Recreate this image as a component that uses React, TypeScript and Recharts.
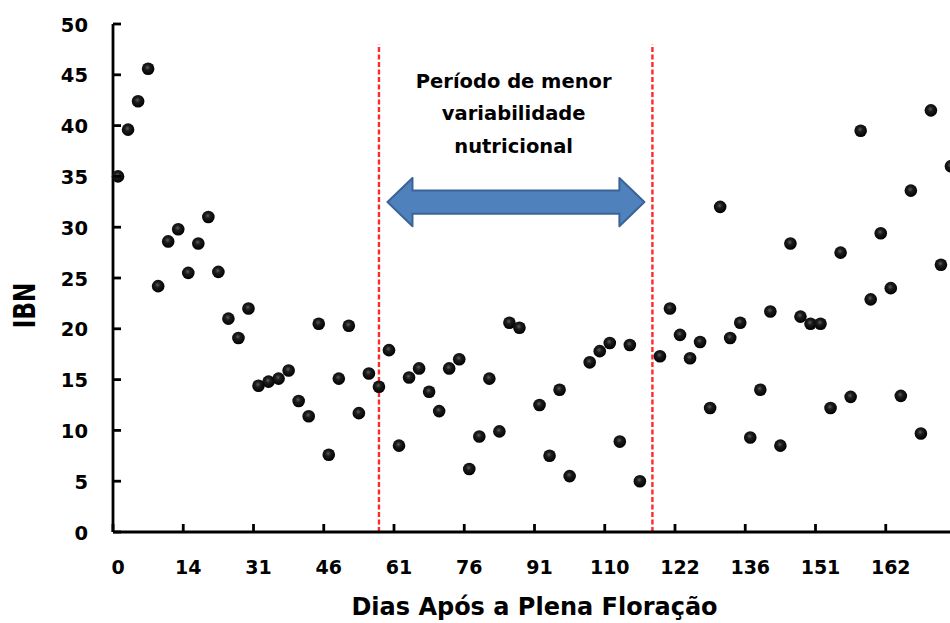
import React from 'react';
import { ScatterChart, Scatter, XAxis, YAxis, ReferenceLine, ReferenceArea } from 'recharts';

// IBN per sample, in sampling order (null = no sample at that position)
const IBN: (number | null)[] = [
  35.0, 39.6, 42.4, 45.6, 24.2, 28.6, 29.8, 25.5, 28.4, 31.0,
  25.6, 21.0, 19.1, 22.0, 14.4, 14.8, 15.1, 15.9, 12.9, 11.4,
  20.5, 7.6, 15.1, 20.3, 11.7, 15.6, 14.3, 17.9, 8.5, 15.2,
  16.1, 13.8, 11.9, 16.1, 17.0, 6.2, 9.4, 15.1, 9.9, 20.6,
  20.1, null, 12.5, 7.5, 14.0, 5.5, null, 16.7, 17.8, 18.6,
  8.9, 18.4, 5.0, null, 17.3, 22.0, 19.4, 17.1, 18.7, 12.2,
  32.0, 19.1, 20.6, 9.3, 14.0, 21.7, 8.5, 28.4, 21.2, 20.5,
  20.5, 12.2, 27.5, 13.3, 39.5, 22.9, 29.4, 24.0, 13.4, 33.6,
  9.7, 41.5, 26.3, 36.0,
];

// day labels shown on every 7th sample
const DAY_TICKS = ['0', '14', '31', '46', '61', '76', '91', '110', '122', '136', '151', '162'];
const TICK_STEP = 7;
const Y_TICKS = [0, 5, 10, 15, 20, 25, 30, 35, 40, 45, 50];

// period of lower nutritional variability (sample positions)
const PERIOD_START = 26;
const PERIOD_END = 53.25;
const NOTE_LINES = ['Período de menor', 'variabilidade', 'nutricional'];

const CHART_W = 970;
const CHART_H = 623;
const MARGIN = { top: 24, right: 14, bottom: 0, left: 0 };
const Y_AXIS_W = 113;
const X_AXIS_H = 91;
const N = IBN.length;
const BAND = (CHART_W - MARGIN.right - Y_AXIS_W) / N;
const FONT = '"DejaVu Sans", Verdana, sans-serif';
const AXIS_W = 2.8;

const data = IBN.map((v, i) => ({ i, ibn: v })).filter(d => d.ibn !== null);

const YTick = ({ x, y, payload }: any) => (
  <g>
    <line x1={x} x2={x + 8} y1={y} y2={y} stroke="#000" strokeWidth={AXIS_W} />
    <text x={x - 25} y={y + 1} textAnchor="end" dominantBaseline="central"
      fontFamily={FONT} fontWeight="bold" fontSize={19.5} fill="#000">
      {payload.value}
    </text>
  </g>
);

const XTick = ({ x, y, payload }: any) => (
  <g>
    <line x1={x - BAND / 2} x2={x - BAND / 2} y1={y} y2={y - 8} stroke="#000" strokeWidth={AXIS_W} />
    <text x={x} y={y + 35} textAnchor="middle" dominantBaseline="central"
      fontFamily={FONT} fontWeight="bold" fontSize={19} fill="#000">
      {DAY_TICKS[payload.value / TICK_STEP]}
    </text>
  </g>
);

const Ball = ({ cx, cy }: any) => <circle cx={cx} cy={cy} r={6.3} fill="url(#ballFill)" />;

const Arrow = ({ x, y, width, height }: any) => {
  const head = 25;
  const mid = y + height / 2;
  const shaft = height * 0.24;
  const pts = [
    [x, mid], [x + head, y], [x + head, mid - shaft], [x + width - head, mid - shaft],
    [x + width - head, y], [x + width, mid], [x + width - head, y + height],
    [x + width - head, mid + shaft], [x + head, mid + shaft], [x + head, y + height],
  ].map(p => p.join(',')).join(' ');
  return <polygon points={pts} fill="#4F81BD" stroke="#3A6496" strokeWidth={2} strokeLinejoin="round" />;
};

const Note = ({ x, y, width }: any) => (
  <text textAnchor="middle" fontFamily={FONT} fontWeight="bold" fontSize={19.5} fill="#000">
    {NOTE_LINES.map((line, k) => (
      <tspan key={k} x={x + width / 2} y={y + 23 + k * 32.5}>{line}</tspan>
    ))}
  </text>
);

const App: React.FC = () => {
  return (
    <div style={{ position: 'absolute', left: 0, top: 0, width: 950, height: 623, overflow: 'hidden', background: '#fff' }}>
      <svg width={0} height={0} style={{ position: 'absolute' }}>
        <defs>
          <radialGradient id="ballFill" cx="45%" cy="40%" r="60%">
            <stop offset="0%" stopColor="#5c5c5c" />
            <stop offset="35%" stopColor="#1c1c1c" />
            <stop offset="100%" stopColor="#000" />
          </radialGradient>
        </defs>
      </svg>
      <ScatterChart width={CHART_W} height={CHART_H} margin={MARGIN}>
        <XAxis
          type="number"
          dataKey="i"
          domain={[-0.5, N - 0.5]}
          ticks={DAY_TICKS.map((_, k) => k * TICK_STEP)}
          interval={0}
          height={X_AXIS_H}
          tickSize={0}
          tickMargin={0}
          tickLine={false}
          tick={<XTick />}
          axisLine={{ stroke: '#000', strokeWidth: AXIS_W }}
          label={(props: any) => {
            const vb = props.viewBox;
            return (
              <text x={vb.x + vb.width / 2} y={vb.y + 83} textAnchor="middle"
                fontFamily={FONT} fontWeight="bold" fontSize={24} fill="#000">
                Dias Após a Plena Floração
              </text>
            );
          }}
        />
        <YAxis
          type="number"
          dataKey="ibn"
          domain={[0, 50]}
          ticks={Y_TICKS}
          interval={0}
          width={Y_AXIS_W}
          tickSize={0}
          tickMargin={0}
          tickLine={false}
          tick={<YTick />}
          axisLine={{ stroke: '#000', strokeWidth: AXIS_W }}
          label={(props: any) => {
            const vb = props.viewBox;
            const cx = vb.x + 24;
            const cy = vb.y + vb.height / 2 + 27.5;
            return (
              <text transform={`translate(${cx},${cy}) scale(1.3,1) rotate(-90)`} textAnchor="middle"
                dominantBaseline="central" fontFamily={FONT} fontWeight="bold" fontSize={23} fill="#000">
                IBN
              </text>
            );
          }}
        />
        <ReferenceArea x1={26.85} x2={52.45} y1={30.1} y2={34.85} shape={<Arrow />} />
        <ReferenceArea x1={26.85} x2={52.0} y1={36.5} y2={46} shape={<Note />} />
        <ReferenceLine
          segment={[{ x: PERIOD_START, y: 0 }, { x: PERIOD_START, y: 48 }]}
          stroke="#FF2A2A" strokeWidth={2.4} strokeDasharray="5 2.5"
        />
        <ReferenceLine
          segment={[{ x: PERIOD_END, y: 0 }, { x: PERIOD_END, y: 48 }]}
          stroke="#FF2A2A" strokeWidth={2.4} strokeDasharray="5 2.5"
        />
        <Scatter data={data} dataKey="ibn" shape={<Ball />} isAnimationActive={false} />
      </ScatterChart>
    </div>
  );
};

export default App;
